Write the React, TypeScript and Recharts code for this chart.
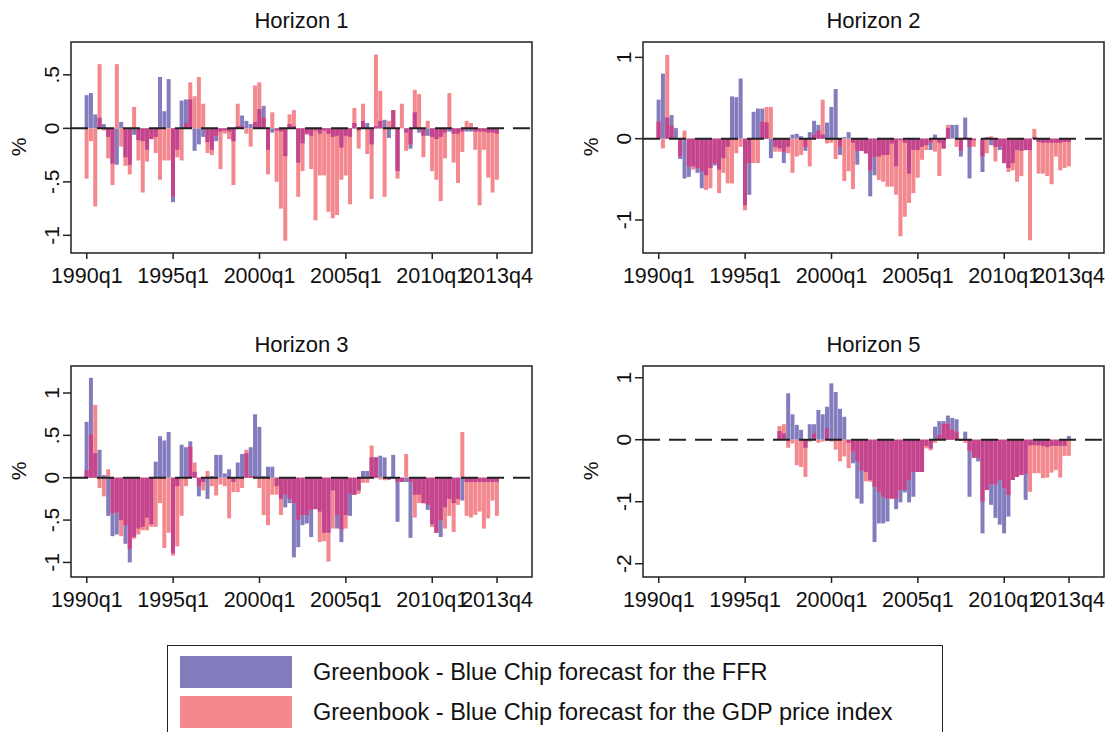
import React from "react";
import { ComposedChart, Bar, XAxis, YAxis, ReferenceLine, ReferenceArea } from "recharts";

const FONT = "'Liberation Sans', Arial, Helvetica, sans-serif";
const BLUE = "#837DBE";
const PINK = "#F3888F";
const BOTH = "#C4448E";

// quarter index 0 = 1990q1 ... 95 = 2013q4
const quarterTicks = [0, 20, 40, 60, 80, 95];
const quarterLabels = ["1990q1", "1995q1", "2000q1", "2005q1", "2010q1", "2013q4"];

// Horizon 1
const h1Ffr = [
  0.31, 0.33, 0.13, 0.1, 0.04, -0.08, -0.33, -0.34, 0.06, -0.27,
  -0.34, -0.06, -0.11, -0.12, -0.2, -0.1, -0.08, 0.48, 0.16, 0.46,
  -0.69, -0.2, 0.26, 0.27, 0.27, -0.21, -0.15, -0.08, -0.13, -0.2,
  -0.12, -0.03, -0.02, -0.03, -0.12, 0.02, 0.12, 0.07, 0.04, 0.06,
  0.18, 0.21, -0.2, -0.04, -0.02, -0.03, -0.26, 0.04, 0.02, -0.32,
  -0.14, -0.05, -0.07, -0.02, -0.05, -0.02, -0.05, -0.08, -0.07, -0.18,
  -0.07, -0.08, 0.05, -0.02, 0.07, 0.05, -0.15, 0.02, 0.07, 0.08,
  -0.09, 0.17, -0.4, 0, -0.04, -0.19, 0.15, -0.04, -0.07, -0.07,
  -0.08, -0.1, -0.08, -0.04, -0.03, -0.05, -0.05, -0.03, -0.03, -0.03,
  -0.03, -0.03, -0.03, -0.04, -0.04, -0.05,
];
const h1Gdp = [
  -0.47, -0.12, -0.73, 0.6, -0.02, -0.28, -0.53, 0.6, -0.17, -0.35,
  -0.43, 0.2, -0.3, -0.6, -0.31, -0.1, -0.23, -0.48, -0.3, -0.3,
  -0.64, -0.27, -0.3, 0.05, 0.43, 0.3, 0.48, 0.23, -0.23, -0.25,
  -0.07, -0.38, -0.05, -0.1, -0.53, 0.23, 0.02, -0.05, -0.17, 0.4,
  0.43, 0.1, -0.43, 0.15, -0.5, -0.75, -1.05, 0.13, 0.17, -0.64,
  -0.4, -0.06, -0.38, -0.86, -0.44, -0.44, -0.78, -0.84, -0.81, -0.48,
  -0.44, -0.71, 0.19, -0.19, 0.23, -0.24, -0.66, 0.69, 0.35, -0.64,
  0.07, 0.17, -0.47, 0.23, -0.21, -0.15, 0.36, 0.32, -0.27, 0.07,
  -0.4, -0.48, -0.68, -0.28, 0.33, -0.32, -0.51, -0.22, 0.07, 0.05,
  -0.2, -0.72, -0.2, -0.46, -0.6, -0.48,
];

// Horizon 2
const h2Ffr = [
  0.48, 0.8, 0.26, 0.29, 0.13, -0.25, -0.49, -0.47, -0.34, -0.42,
  -0.61, -0.45, -0.36, -0.33, -0.38, -0.24, -0.1, 0.52, 0.51, 0.74,
  -0.82, -0.69, 0.33, 0.37, 0.37, 0.2, -0.24, -0.1, -0.12, -0.3,
  -0.1, 0.05, 0.06, 0.03, -0.15, 0.08, 0.22, 0.17, 0.05, 0.2,
  0.39, 0.61, -0.2, 0.02, 0.08, -0.05, -0.32, -0.15, -0.18, -0.71,
  -0.45, -0.22, -0.2, -0.2, -0.06, -0.34, -0.02, -0.05, -0.43, -0.14,
  -0.14, -0.1, -0.08, -0.14, 0.05, -0.05, -0.12, 0.13, 0.17, 0.17,
  -0.22, 0.26, -0.49, -0.02, 0, -0.41, 0.02, -0.08, -0.1, -0.14,
  -0.3, -0.36, -0.3, -0.14, -0.15, -0.14, -0.14, 0.02, -0.04, -0.05,
  -0.05, -0.05, -0.05, -0.05, -0.04, -0.04,
];
const h2Gdp = [
  0.21, -0.12, 1.03, 0.16, 0, -0.22, 0.1, -0.34, -0.38, -0.36,
  -0.4, -0.63, -0.61, -0.3, -0.67, -0.42, -0.55, -0.55, -0.18, -0.1,
  -0.88, -0.3, -0.3, -0.3, 0.21, 0.39, 0.39, -0.16, -0.16, -0.16,
  -0.18, -0.42, -0.22, -0.2, -0.1, -0.34, 0.05, 0.1, 0.48, -0.06,
  -0.05, -0.25, -0.1, -0.52, -0.4, -0.62, -0.15, -0.15, -0.18, -0.39,
  -0.22, -0.51, -0.53, -0.59, -0.59, -0.69, -1.2, -0.96, -0.79, -0.67,
  -0.48, -0.26, -0.14, -0.05, -0.16, -0.46, -0.12, 0.17, 0, -0.1,
  -0.15, 0.02, -0.1, -0.1, 0, -0.22, -0.18, 0.03, -0.28, -0.1,
  -0.3, -0.41, -0.39, -0.53, -0.46, -0.14, -1.25, 0.12, -0.43, -0.43,
  -0.46, -0.56, -0.22, -0.39, -0.36, -0.34,
];

// Horizon 3
const h3Ffr = [
  0.66, 1.18, 0.29, 0.33, 0.03, -0.45, -0.69, -0.67, -0.5, -0.78,
  -1.0, -0.7, -0.6, -0.58, -0.47, -0.55, 0.19, 0.49, 0.44, 0.54,
  -0.89, -0.1, 0.39, 0.36, 0.43, 0.07, -0.22, -0.05, -0.25, 0.02,
  0.27, 0.27, 0.05, 0.1, -0.05, 0.18, 0.28, 0.29, 0.36, 0.75,
  0.6, 0.02, 0.13, 0.13, -0.1, -0.25, -0.35, -0.3, -0.94, -0.82,
  -0.56, -0.54, -0.7, -0.37, -0.4, -0.65, -0.65, -0.15, -0.6, -0.76,
  -0.44, -0.45, -0.2, -0.15, 0.08, 0.08, 0.24, 0.24, 0.26, 0.24,
  -0.02, 0.27, -0.52, -0.05, -0.05, -0.71, -0.2, -0.2, -0.3, -0.38,
  -0.55, -0.65, -0.7, -0.35, -0.25, -0.3, -0.25, -0.27, -0.05, -0.05,
  -0.05, -0.05, -0.05, -0.05, -0.05, -0.05,
];
const h3Gdp = [
  0.09, 0.51, 0.86, -0.12, -0.22, 0.1, -0.42, -0.41, -0.69, -0.56,
  -0.84, -0.72, -0.67, -0.62, -0.62, -0.58, -0.58, -0.3, -0.83, -0.65,
  -0.92, -0.81, -0.45, -0.1, 0.37, 0.18, -0.1, -0.15, 0.08, -0.1,
  -0.21, -0.08, -0.1, -0.48, -0.17, -0.17, -0.12, 0.33, 0.02, 0.02,
  -0.12, -0.44, -0.56, -0.2, -0.2, -0.44, -0.2, -0.25, -0.3, -0.5,
  -0.44, -0.44, -0.38, -0.37, -0.76, -0.75, -0.99, -0.6, -0.44, -0.61,
  -0.6, -0.19, -0.2, -0.19, -0.06, -0.06, 0.38, 0.24, -0.02, -0.03,
  -0.02, -0.01, -0.05, -0.05, 0.28, -0.05, -0.47, -0.3, -0.3, -0.32,
  -0.58, -0.65, -0.5, -0.6, -0.45, -0.64, -0.32, 0.54, -0.45, -0.47,
  -0.44, -0.4, -0.6, -0.48, -0.27, -0.45,
];

// Horizon 5 (starts 1997q1)
const h5Start = 28;
const h5Ffr = [
  0.14, 0.1, 0.75, 0.41, 0.24, 0.16, -0.13, 0.25, 0.25, 0.48,
  0.41, 0.53, 0.91, 0.77, 0.5, 0.37, -0.05, -0.38, -0.95, -1.03,
  -0.52, -0.65, -1.65, -1.35, -1.35, -1.32, -0.95, -1.12, -1.01, -0.85,
  -1.01, -0.92, -0.52, -0.52, -0.1, -0.14, 0.21, 0.3, 0.3, 0.39,
  0.35, 0.33, -0.02, 0.13, -0.92, -0.29, -0.35, -1.51, -0.81, -1.05,
  -1.26, -1.37, -1.51, -1.24, -0.65, -0.6, -0.57, -0.97, -0.09, -0.09,
  -0.09, -0.1, -0.12, -0.1, -0.1, -0.1, -0.1, 0.06,
];
const h5Gdp = [
  0.22, 0.25, -0.13, -0.06, -0.41, -0.44, -0.6, -0.03, 0.1, -0.05,
  -0.03, 0.19, -0.03, -0.16, -0.35, -0.27, -0.46, -0.19, -0.35, -0.5,
  -0.67, -0.68, -0.76, -0.84, -0.92, -0.95, -0.95, -0.95, -0.81, -0.81,
  -0.65, -0.52, -0.52, -0.52, -0.14, -0.17, -0.05, 0.08, 0.26, 0.26,
  0.16, 0.13, -0.02, -0.05, -0.18, -0.29, -0.3, -1.0, -0.81, -0.72,
  -0.72, -0.65, -0.78, -0.89, -0.65, -0.6, -0.57, -0.55, -0.84, -0.54,
  -0.54, -0.62, -0.61, -0.53, -0.49, -0.61, -0.26, -0.26,
];

const h1Ticks = [0.5, 0, -0.5, -1];
const h2Ticks = [1, 0, -1];
const h3Ticks = [1, 0.5, 0, -0.5, -1];
const h5Ticks = [1, 0, -1, -2];

const fmt = (v: number) => String(v).replace("0.", ".");

const overlap = (a: number | null, b: number | null) => {
  if (a == null || b == null) return null;
  if (a * b <= 0) return null;
  return a > 0 ? Math.min(a, b) : Math.max(a, b);
};

const buildRows = (ffr: number[], gdp: number[], start = 0) =>
  Array.from({ length: 96 }, (_, q) => {
    const k = q - start;
    const f = k >= 0 && k < ffr.length ? ffr[k] : null;
    const g = k >= 0 && k < gdp.length ? gdp[k] : null;
    return { q, ffr: f, gdp: g, both: overlap(f, g) };
  });

const XTick = ({ x, y, payload }: any) => (
  <text x={x} y={y + 22} textAnchor="middle" fontSize={21.5} fontFamily={FONT} fill="#111">
    {quarterLabels[quarterTicks.indexOf(payload.value)]}
  </text>
);

const YTick = ({ x, y, payload }: any) => (
  <text
    x={x - 2}
    y={y}
    transform={`rotate(-90 ${x - 2} ${y})`}
    textAnchor="middle"
    fontSize={21}
    fontFamily={FONT}
    fill="#111"
  >
    {fmt(payload.value)}
  </text>
);

interface PanelProps {
  title: string;
  rows: any[];
  domain: [number, number];
  ticks: number[];
  left: number;
  top: number;
}

const W = 560;
const H = 300;
const PL = 71;
const PT = 42;
const PW = 461;
const PH = 211;
const X_DOMAIN: [number, number] = [-3.65, 103.1];

const Panel = ({ title, rows, domain, ticks, left, top }: PanelProps) => (
  <div style={{ position: "absolute", left, top, width: W, height: H }}>
    <div
      style={{
        position: "absolute",
        left: PL,
        width: PW,
        top: 8,
        textAlign: "center",
        fontSize: 22,
        fontFamily: FONT,
        color: "#111",
        lineHeight: "26px",
      }}
    >
      {title}
    </div>
    <div
      style={{
        position: "absolute",
        left: 18,
        top: 147,
        transform: "translate(-50%, -50%) rotate(-90deg)",
        fontSize: 21,
        fontFamily: FONT,
        color: "#111",
        lineHeight: "21px",
      }}
    >
      %
    </div>
    <ComposedChart
      width={W}
      height={H}
      data={rows}
      margin={{ top: PT, right: W - PL - PW, bottom: 0, left: 0 }}
    >
      <XAxis
        xAxisId="a"
        dataKey="q"
        type="number"
        domain={X_DOMAIN}
        allowDataOverflow
        ticks={quarterTicks}
        interval={0}
        tick={<XTick />}
        tickSize={6}
        tickMargin={2}
        height={H - PT - PH}
        axisLine={false}
        stroke="#222"
        strokeWidth={1.5}
      />
      <XAxis xAxisId="b" dataKey="q" type="number" domain={X_DOMAIN} allowDataOverflow hide />
      <XAxis xAxisId="c" dataKey="q" type="number" domain={X_DOMAIN} allowDataOverflow hide />
      <YAxis
        yAxisId="l"
        type="number"
        domain={domain}
        allowDataOverflow
        ticks={ticks}
        interval={0}
        tick={<YTick />}
        tickSize={8}
        tickMargin={2}
        width={PL}
        axisLine={false}
        stroke="#222"
        strokeWidth={1.5}
      />
      <Bar xAxisId="a" yAxisId="l" dataKey="ffr" fill={BLUE} barSize={4} isAnimationActive={false} />
      <Bar xAxisId="b" yAxisId="l" dataKey="gdp" fill={PINK} barSize={4} isAnimationActive={false} />
      <Bar xAxisId="c" yAxisId="l" dataKey="both" fill={BOTH} barSize={4} isAnimationActive={false} />
      <ReferenceLine
        xAxisId="a"
        yAxisId="l"
        y={0}
        stroke="#222"
        strokeWidth={2}
        strokeDasharray="17 9"
      />
      <ReferenceArea
        xAxisId="a"
        yAxisId="l"
        x1={X_DOMAIN[0]}
        x2={X_DOMAIN[1]}
        y1={domain[0]}
        y2={domain[1]}
        fill="none"
        fillOpacity={0}
        stroke="#222"
        strokeWidth={1.5}
        strokeOpacity={1}
        ifOverflow="visible"
      />
    </ComposedChart>
  </div>
);

const legendItems = [
  { color: BLUE, label: "Greenbook - Blue Chip forecast for the FFR" },
  { color: PINK, label: "Greenbook - Blue Chip forecast for the GDP price index" },
];

const LegendBox = () => (
  <div
    style={{
      position: "absolute",
      left: 167,
      top: 645,
      width: 776,
      height: 95,
      border: "1.5px solid #222",
      boxSizing: "border-box",
      fontFamily: FONT,
      fontSize: 23.5,
      color: "#111",
    }}
  >
    {legendItems.map((item, i) => (
      <div
        key={item.label}
        style={{ position: "absolute", left: 12, top: 10 + i * 40, height: 32, display: "flex", alignItems: "center" }}
      >
        <div style={{ width: 112, height: 32, background: item.color }} />
        <span style={{ marginLeft: 21, whiteSpace: "nowrap" }}>{item.label}</span>
      </div>
    ))}
  </div>
);

export default function App() {
  return (
    <div style={{ position: "absolute", left: 0, top: 0, width: 1109, height: 732, background: "#fff", overflow: "hidden" }}>
      <Panel title="Horizon 1" rows={buildRows(h1Ffr, h1Gdp)} domain={[-1.165, 0.807]} ticks={h1Ticks} left={0} top={0} />
      <Panel title="Horizon 2" rows={buildRows(h2Ffr, h2Gdp)} domain={[-1.406, 1.189]} ticks={h2Ticks} left={572} top={0} />
      <Panel title="Horizon 3" rows={buildRows(h3Ffr, h3Gdp)} domain={[-1.172, 1.319]} ticks={h3Ticks} left={0} top={324} />
      <Panel title="Horizon 5" rows={buildRows(h5Ffr, h5Gdp, h5Start)} domain={[-2.214, 1.189]} ticks={h5Ticks} left={572} top={324} />
      <LegendBox />
    </div>
  );
}
